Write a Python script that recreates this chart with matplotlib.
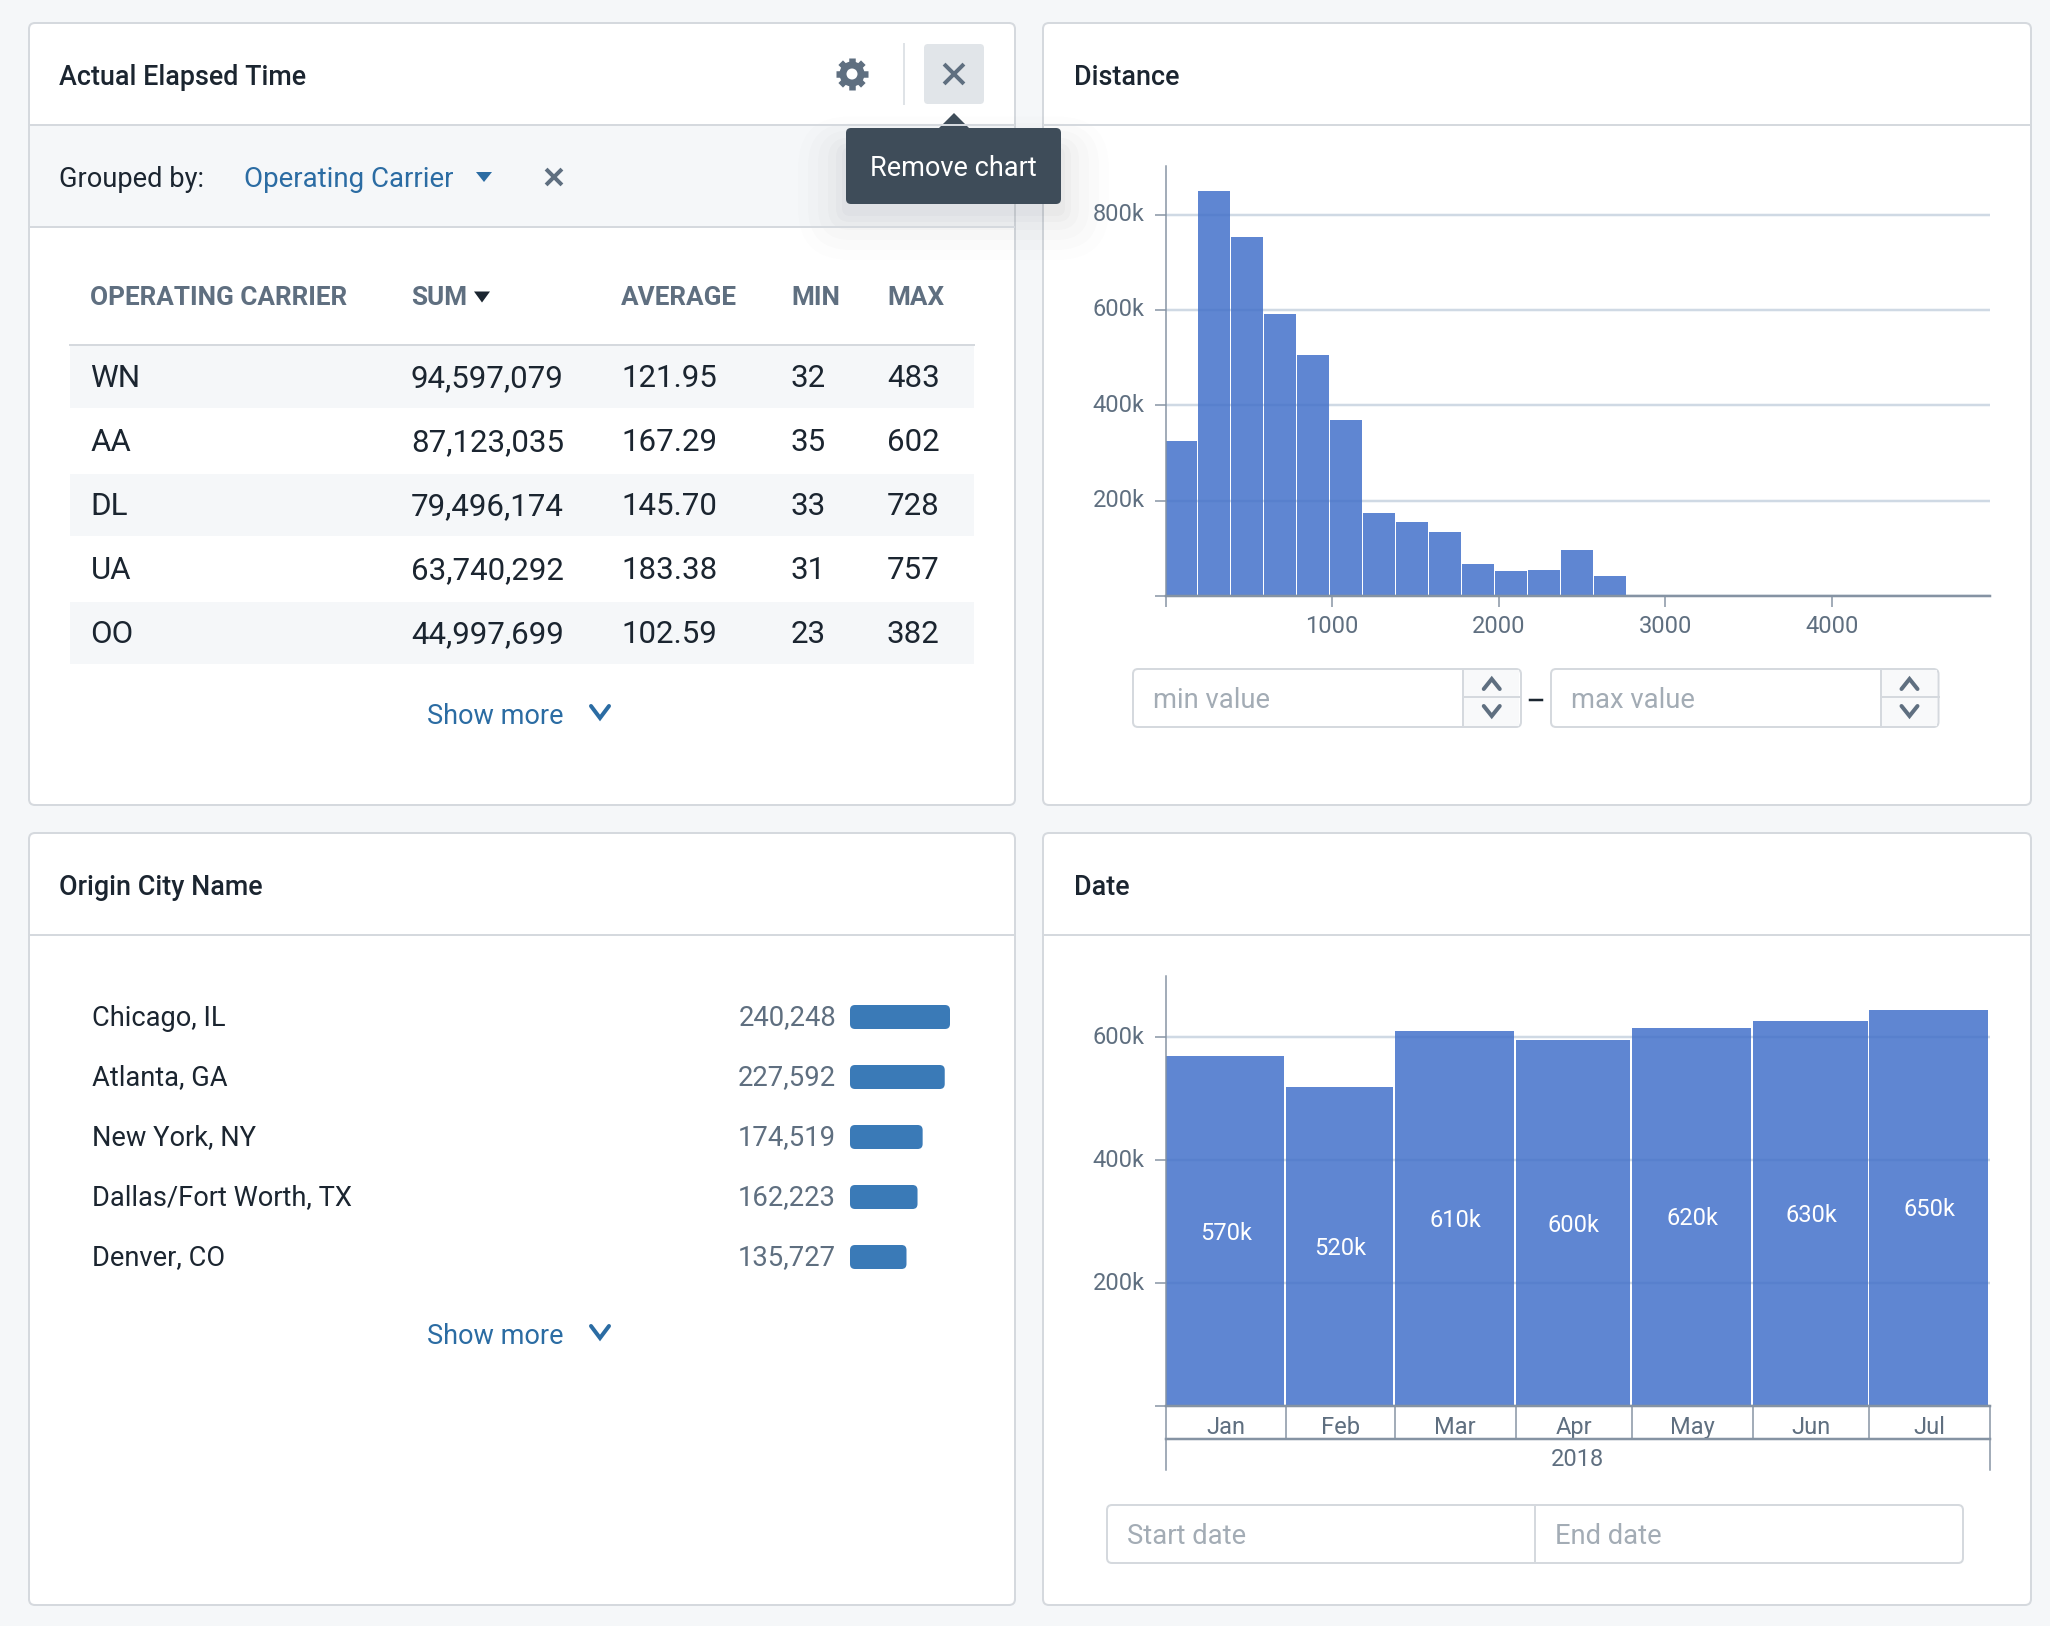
from datetime import date
import math

import matplotlib
matplotlib.use("Agg")
import matplotlib.dates as mdates
import matplotlib.pyplot as plt
from matplotlib.patches import Circle, FancyBboxPatch, Polygon, Rectangle
from matplotlib.ticker import FuncFormatter

W, H = 2050, 1626

# table panel
table_columns = ["OPERATING CARRIER", "SUM", "AVERAGE", "MIN", "MAX"]
carriers = ["WN", "AA", "DL", "UA", "OO"]
sums = ["94,597,079", "87,123,035", "79,496,174", "63,740,292", "44,997,699"]
averages = ["121.95", "167.29", "145.70", "183.38", "102.59"]
mins = ["32", "35", "33", "31", "23"]
maxs = ["483", "602", "728", "757", "382"]

# distance histogram, 198 wide bins
distance_counts = [325000, 849000, 754000, 591000, 505000, 369000, 174000, 155000,
                   134000, 68000, 53000, 55000, 96000, 42000, 3000, 1000, 800, 600,
                   500, 400, 500, 400, 300, 200, 200]
distance_ticks = [1000, 2000, 3000, 4000]
bin_width = 198

# origin cities
cities = ["Chicago, IL", "Atlanta, GA", "New York, NY", "Dallas/Fort Worth, TX", "Denver, CO"]
city_counts = [240248, 227592, 174519, 162223, 135727]

# date histogram
months = ["Jan", "Feb", "Mar", "Apr", "May", "Jun", "Jul"]
month_counts = [570000, 520000, 611000, 596000, 616000, 626000, 645000]
month_labels = ["570k", "520k", "610k", "600k", "620k", "630k", "650k"]

FONT = "Roboto"
BG = "#f5f7f9"
BORDER = "#d5d9de"
DARK = "#1b2530"
GREY = "#5f6f80"
BLUE = "#2b6ca3"
PLACEHOLDER = "#a3acb5"
BAR = "#4371ca"
AXIS = "#8593a3"
GRID = "#cfd9e4"

plt.rcParams["font.family"] = [FONT, "DejaVu Sans"]


def px_axes(fig, left, top, right, bottom):
    return fig.add_axes([left / W, 1 - bottom / H, (right - left) / W, (bottom - top) / H])


def lw(px):
    return px * 0.72


def label(ax, x, y, text, color, size, **kw):
    # roboto sits a little higher than the original font, so push it down
    ax.text(x, y + 2, text, color=color, fontsize=size, va="center", **kw)


def round_box(ax, x0, y0, x1, y1, radius=6, fc="white", ec=BORDER, line=2, **kw):
    patch = FancyBboxPatch((x0, y0), x1 - x0, y1 - y0,
                           boxstyle=f"round,pad=0,rounding_size={radius}",
                           fc=fc, ec=ec, lw=lw(line), **kw)
    ax.add_patch(patch)
    return patch


def chevron(ax, x, y, half_w, half_h, up, color=GREY, line=4):
    sign = -1 if up else 1
    ax.plot([x - half_w, x, x + half_w], [y - sign * half_h, y + sign * half_h, y - sign * half_h],
            color=color, lw=lw(line), solid_capstyle="round", solid_joinstyle="miter")


def cross(ax, x, y, size, color=GREY, line=4):
    ax.plot([x - size, x + size], [y - size, y + size], color=color, lw=lw(line))
    ax.plot([x - size, x + size], [y + size, y - size], color=color, lw=lw(line))


def triangle(ax, x, y, half_w, half_h, color):
    ax.add_patch(Polygon([(x - half_w, y - half_h), (x + half_w, y - half_h), (x, y + half_h)],
                         closed=True, fc=color, ec="none"))


def gear(ax, x, y, color=GREY):
    for angle in range(0, 180, 45):
        dx = 16 * math.cos(math.radians(angle))
        dy = 16 * math.sin(math.radians(angle))
        ax.plot([x - dx, x + dx], [y - dy, y + dy], color=color, lw=lw(6.5), solid_capstyle="butt")
    ax.add_patch(Circle((x, y), 12.5, fc=color, ec="none", zorder=3))
    ax.add_patch(Circle((x, y), 5.5, fc="white", ec="none", zorder=4))


def stepper(ax, x0, x1, divider, text):
    round_box(ax, x0, 669, x1, 727, radius=5)
    ax.add_patch(Rectangle((divider, 670), x1 - divider - 2, 56, fc="#f8f9fa", ec="none"))
    ax.plot([divider, divider], [669, 727], color=BORDER, lw=lw(2))
    ax.plot([divider, x1], [697, 697], color=BORDER, lw=lw(2))
    mid = (divider + x1) / 2
    chevron(ax, mid, 684, 8, 5, True)
    chevron(ax, mid, 711, 8, 5, False)
    label(ax, x0 + 20, 698, text, PLACEHOLDER, 19.7)


fig = plt.figure(figsize=(W / 100, H / 100), dpi=100, facecolor=BG)
ui = fig.add_axes([0, 0, 1, 1])
ui.set_xlim(0, W)
ui.set_ylim(H, 0)
ui.axis("off")

# panels
for x0, y0, x1, y1 in [(29, 23, 1015, 805), (1043, 23, 2031, 805),
                       (29, 833, 1015, 1605), (1043, 833, 2031, 1605)]:
    round_box(ui, x0, y0, x1, y1)
ui.add_patch(Rectangle((30, 125), 984, 102, fc=BG, ec="none"))
for x0, x1, y in [(30, 1014, 125), (30, 1014, 227), (1044, 2030, 125),
                  (30, 1014, 935), (1044, 2030, 935)]:
    ui.plot([x0, x1], [y, y], color=BORDER, lw=lw(2))

# panel titles
for x, y, title in [(59, 75.5, "Actual Elapsed Time"), (1074, 75.5, "Distance"),
                    (59, 885, "Origin City Name"), (1074, 885, "Date")]:
    label(ui, x, y, title, DARK, 19.4, fontweight="medium")

# header controls of the first panel
gear(ui, 852, 74)
ui.plot([903.5, 903.5], [44, 104], color="#dfe3e7", lw=lw(2))
round_box(ui, 924, 44, 984, 104, radius=4, fc="#e1e5e9", ec="none")
cross(ui, 954, 74, 8.5)

# grouped by row
label(ui, 59, 177.5, "Grouped by:", DARK, 19.6)
label(ui, 244, 177.5, "Operating Carrier", BLUE, 19.9)
triangle(ui, 484, 177, 8, 5, BLUE)
cross(ui, 554, 177, 6.5)

# table
col_x = [90.5, 411, 621, 791, 887]
for x, name in zip(col_x, table_columns):
    label(ui, x, 296, name, GREY, 18.8, fontweight="bold")
triangle(ui, 482, 297, 8, 5.5, DARK)
ui.plot([70, 974], [345, 345], color=BORDER, lw=lw(2))
row_y = [377, 441, 505, 569, 633]
for i, y in enumerate(row_y):
    if i % 2 == 0:
        ui.add_patch(Rectangle((70, y - 31), 904, 62, fc=BG, ec="none"))
    for x, column in zip(col_x, [carriers, sums, averages, mins, maxs]):
        label(ui, x, y - 0.5, column[i], DARK, 22.5)
label(ui, 427, 714, "Show more", BLUE, 19.5)
chevron(ui, 600, 712, 9, 6, False, BLUE)

# distance inputs
stepper(ui, 1133, 1521, 1462.5, "min value")
ui.plot([1530, 1542], [700, 700], color=DARK, lw=lw(2.5))
stepper(ui, 1551, 1938.5, 1880.5, "max value")

# origin city list footer
label(ui, 427, 1334, "Show more", BLUE, 19.5)
chevron(ui, 600, 1332, 9, 6, False, BLUE)

# date inputs
round_box(ui, 1107, 1505, 1963, 1563, radius=5)
ui.plot([1535, 1535], [1505, 1563], color=BORDER, lw=lw(2))
label(ui, 1127, 1534, "Start date", PLACEHOLDER, 19.7)
label(ui, 1555, 1534, "End date", PLACEHOLDER, 19.7)

# tooltip with soft shadow, it falls mostly below the box
for spread, alpha in [(48, 0.008), (38, 0.01), (28, 0.012), (18, 0.015), (10, 0.018), (4, 0.02)]:
    round_box(ui, 846 - spread, 150 - spread * 0.7, 1061 + spread, 212 + spread, radius=spread + 4,
              fc=(0.06, 0.09, 0.13, alpha), ec="none", line=0)
ui.add_patch(Polygon([(938, 129), (954, 113), (970, 129)], closed=True, fc="#3e4c59", ec="none"))
round_box(ui, 846, 128, 1061, 204, radius=5, fc="#3e4c59", ec="none", line=0)
ui.text(953.5, 168, "Remove chart", color="white", fontsize=19.5, ha="center", va="center")


def style_chart(ax, y_max):
    ax.set_facecolor("none")
    ax.set_ylim(0, y_max)
    ax.set_axisbelow(True)
    ax.grid(True, axis="y", color=GRID, lw=lw(2.5))
    ax.grid(False, axis="x")
    for side in ["top", "right"]:
        ax.spines[side].set_visible(False)
    ax.spines["left"].set_color(AXIS)
    ax.spines["left"].set_linewidth(lw(1.5))
    ax.spines["bottom"].set_color(AXIS)
    ax.spines["bottom"].set_linewidth(lw(2.5))
    ax.set_yticks([0, 200000, 400000, 600000, 800000] if y_max > 800000 else [0, 200000, 400000, 600000])
    ax.yaxis.set_major_formatter(FuncFormatter(lambda v, _: "" if v == 0 else f"{v / 1000:.0f}k"))
    ax.tick_params(axis="y", length=8, width=lw(1.5), color=AXIS, labelcolor=GREY,
                   labelsize=17, pad=7)
    for tick in ax.get_yticklabels():
        tick.set_va("center")


# distance chart
ax_dist = px_axes(fig, 1165.5, 166, 1990, 596)
style_chart(ax_dist, 902000)
ax_dist.set_xlim(0, 4950)
ax_dist.bar([i * bin_width for i in range(len(distance_counts))], distance_counts,
            width=bin_width * 0.96, align="edge", color=BAR, alpha=0.85)
ax_dist.set_xticks([0] + distance_ticks, [""] + [str(t) for t in distance_ticks])
ax_dist.tick_params(axis="x", length=8, width=lw(1.5), color=AXIS, labelcolor=GREY,
                    labelsize=17, pad=5.5)

# date chart
ax_date = px_axes(fig, 1165.5, 976, 1990, 1406)
style_chart(ax_date, 700000)
starts = [mdates.date2num(date(2018, m, 1)) for m in range(1, 9)]
ax_date.set_xlim(starts[0], starts[-1])
widths = [b - a for a, b in zip(starts, starts[1:])]
ax_date.bar(starts[:-1], month_counts, width=[w - 0.45 for w in widths], align="edge",
            color=BAR, alpha=0.85)
for left, width, count, bar_label in zip(starts, widths, month_counts, month_labels):
    ax_date.annotate(bar_label, (left + width / 2, count / 2), xytext=(0, -1.5),
                     textcoords="offset points", color="white", fontsize=17,
                     ha="center", va="center")
tier = 33 / (1406 - 976)
ax_date.set_xticks(starts, [""] * len(starts))
ax_date.set_xticks([a + w / 2 for a, w in zip(starts, widths)], months, minor=True)
ax_date.tick_params(axis="x", which="major", length=33 * 0.72, width=lw(1.5), color=AXIS)
ax_date.tick_params(axis="x", which="minor", length=0, labelcolor=GREY, labelsize=17, pad=7.5)
trans = ax_date.get_xaxis_transform()
ax_date.plot([starts[0], starts[-1]], [-tier, -tier], color=AXIS, lw=lw(2.5), transform=trans, clip_on=False)
for x in [starts[0], starts[-1]]:
    ax_date.plot([x, x], [-tier, -1.95 * tier], color=AXIS, lw=lw(1.5), transform=trans, clip_on=False)
ax_date.text((starts[0] + starts[-1]) / 2, -1.62 * tier, "2018", color=GREY, fontsize=17,
             ha="center", va="center", transform=trans)

# city bars
ax_city = px_axes(fig, 850, 987, 950, 1287)
ax_city.axis("off")
ax_city.set_xlim(0, max(city_counts))
ax_city.set_ylim(len(cities) - 0.5, -0.5)
city_bars = ax_city.barh(range(len(cities)), city_counts, height=0.4, color="none")
x_per_px = max(city_counts) / 100
y_per_px = 5 / 300
for bar in city_bars:
    ax_city.add_patch(FancyBboxPatch((bar.get_x(), bar.get_y()), bar.get_width(), bar.get_height(),
                                     boxstyle=f"round,pad=0,rounding_size={5 * x_per_px}",
                                     mutation_aspect=y_per_px / x_per_px,
                                     fc="#3a7ab7", ec="none", clip_on=False))
for y, (city, count) in enumerate(zip(cities, city_counts)):
    label(ui, 92.5, 1016 + y * 60, city, DARK, 19.6)
    label(ui, 836, 1016 + y * 60, f"{count:,}", GREY, 19.8, ha="right")

fig.savefig("out.png", dpi=100, facecolor=BG)
plt.close(fig)
